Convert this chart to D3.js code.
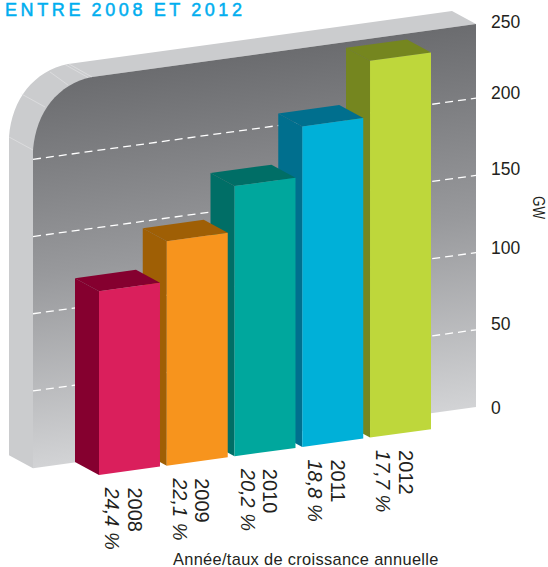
<!DOCTYPE html>
<html><head><meta charset="utf-8">
<script src="https://cdn.jsdelivr.net/npm/d3@7"></script>
<style>html,body{margin:0;padding:0;background:#fff;overflow:hidden}text{font-family:"Liberation Sans",sans-serif;fill:#231f20}</style>
</head><body><svg id="c" width="548" height="567"></svg>
<script>
const years = ["2008","2009","2010","2011","2012"];
const gw = [119,145.4,175,207.6,244];
const growth = ["24,4 %","22,1 %","20,2 %","18,8 %","17,7 %"];
const frontColors = ["#da1f5c","#f7941d","#00a79d","#00b0d8","#bed73b"];
const sideColors = ["#85002f","#9f5f05","#006e66","#006f8e","#75861f"];
const gridTicks = [50,100,150,200];
const axisLabels = [[250,22],[200,93],[150,169],[100,248],[50,324],[0,408]];

const svg = d3.select("#c");
const slope = -0.138;
const y = d3.scaleLinear().domain([0,250]).range([0,386]);
const x = d3.scaleBand().domain(years).range([99,431]).paddingInner(0.1);
const W = {l:33, r:476, base:407, top:248, dx:-24, dy:-13};
const wallBase = px => W.base + slope*(px-W.r);
const wallP = (px,v) => [px, wallBase(px)-y(v)];
const barBase = px => 475 + slope*(px-99);
const barP = (px,v) => [px, barBase(px)-y(v)];
const path = pts => "M"+pts.map(p=>p.join(",")).join("L")+"Z";

const defs = svg.append("defs");
const g = defs.append("linearGradient").attr("id","wall").attr("gradientUnits","userSpaceOnUse")
  .attr("x1",254).attr("y1",54).attr("x2",306).attr("y2",430);
g.append("stop").attr("offset",0).attr("stop-color","#6b6c6f");
g.append("stop").attr("offset",0.5).attr("stop-color","#98999c");
g.append("stop").attr("offset",1).attr("stop-color","#d2d3d5");

// wall
const tr = wallP(W.r,W.top), br = wallP(W.r,0), bl = wallP(W.l,0);
const cTop = [92, wallP(92,W.top)[1]];
const cLeft = [W.l, 150];
const curve = (o) => `C${cLeft[0]+o[0]+3},${cLeft[1]+o[1]-38} ${cTop[0]+o[0]-34},${cTop[1]+o[1]+7} ${cTop[0]+o[0]},${cTop[1]+o[1]}`;
const O = [W.dx,W.dy];
const add = (p,o)=>[p[0]+o[0],p[1]+o[1]];
const oBL = add(bl,O), oCL = add(cLeft,O), oTR = add(tr,O);
svg.append("path").attr("fill","#cbccce")
  .attr("d",`M${bl}L${oBL}L${oCL}${curve(O)}L${oTR}L${tr}L${cTop}L${cLeft}Z`);
svg.append("path").attr("fill","url(#wall)")
  .attr("d",`M${bl}L${cLeft}${curve([0,0])}L${tr}L${br}Z`);
// faint folds on frame
svg.append("g").attr("stroke","#e6e6e7").attr("stroke-width",0.6)
  .selectAll("line").data([[cLeft,oCL],[[45,107],[21.5,94]],[[68,85],[50,72]],[[88,77.5],[65,64.5]],[[92,77],[69,64]]]).join("line")
  .attr("x1",d=>d[0][0]).attr("y1",d=>d[0][1]).attr("x2",d=>d[1][0]).attr("y2",d=>d[1][1]);

// grid
svg.append("g").selectAll("line").data(gridTicks).join("line")
  .attr("x1",W.l).attr("x2",W.r)
  .attr("y1",d=>wallP(W.l,d)[1]).attr("y2",d=>wallP(W.r,d)[1])
  .attr("stroke","#fff").attr("stroke-width",1.3).attr("stroke-dasharray","8 5");

// bars: drawn back to front so nearer bars hide the sides of later ones
const D = [-24,-13];
const order = years.map((_,i)=>i).reverse();
order.forEach(i=>{
  const yr = years[i];
  const s = svg.append("g"), a = x(yr), b = a + x.bandwidth(), v = gw[i];
  const tl = barP(a,v), trr = barP(b,v), bll = barP(a,0), brr = barP(b,0);
  s.append("path").attr("fill",sideColors[i]).attr("d",path([tl,bll,add(bll,D),add(tl,D)]));
  s.append("path").attr("fill",sideColors[i]).attr("d",path([tl,trr,add(trr,D),add(tl,D)]));
  s.append("path").attr("fill",frontColors[i]).attr("d",path([tl,trr,brr,bll]));
  const base = bll[1]+12.5;
  s.append("text").attr("transform",`translate(${a+28.5},${base}) rotate(90)`).attr("font-size",20).text(yr);
  s.append("text").attr("transform",`translate(${a+6},${base}) rotate(90)`).attr("font-size",20).attr("font-style","italic").text(growth[i]);
});

// tick labels
svg.append("g").selectAll("text").data(axisLabels).join("text")
  .attr("x",491).attr("y",d=>d[1]+6).attr("font-size",17.5).text(d=>d[0]);
svg.append("text").attr("transform","translate(533,196) rotate(90)").attr("font-size",16)
  .attr("textLength",23).attr("lengthAdjust","spacingAndGlyphs").text("GW");
svg.append("text").attr("x",173).attr("y",565).attr("font-size",16.4).attr("letter-spacing",0.32).text("Année/taux de croissance annuelle");
svg.append("text").attr("x",5).attr("y",16).attr("font-size",18).attr("letter-spacing",3.6).attr("word-spacing",-1)
  .attr("stroke","#00aeef").attr("stroke-width",0.5)
  .style("fill","#00aeef").text("ENTRE 2008 ET 2012");
</script></body></html>
